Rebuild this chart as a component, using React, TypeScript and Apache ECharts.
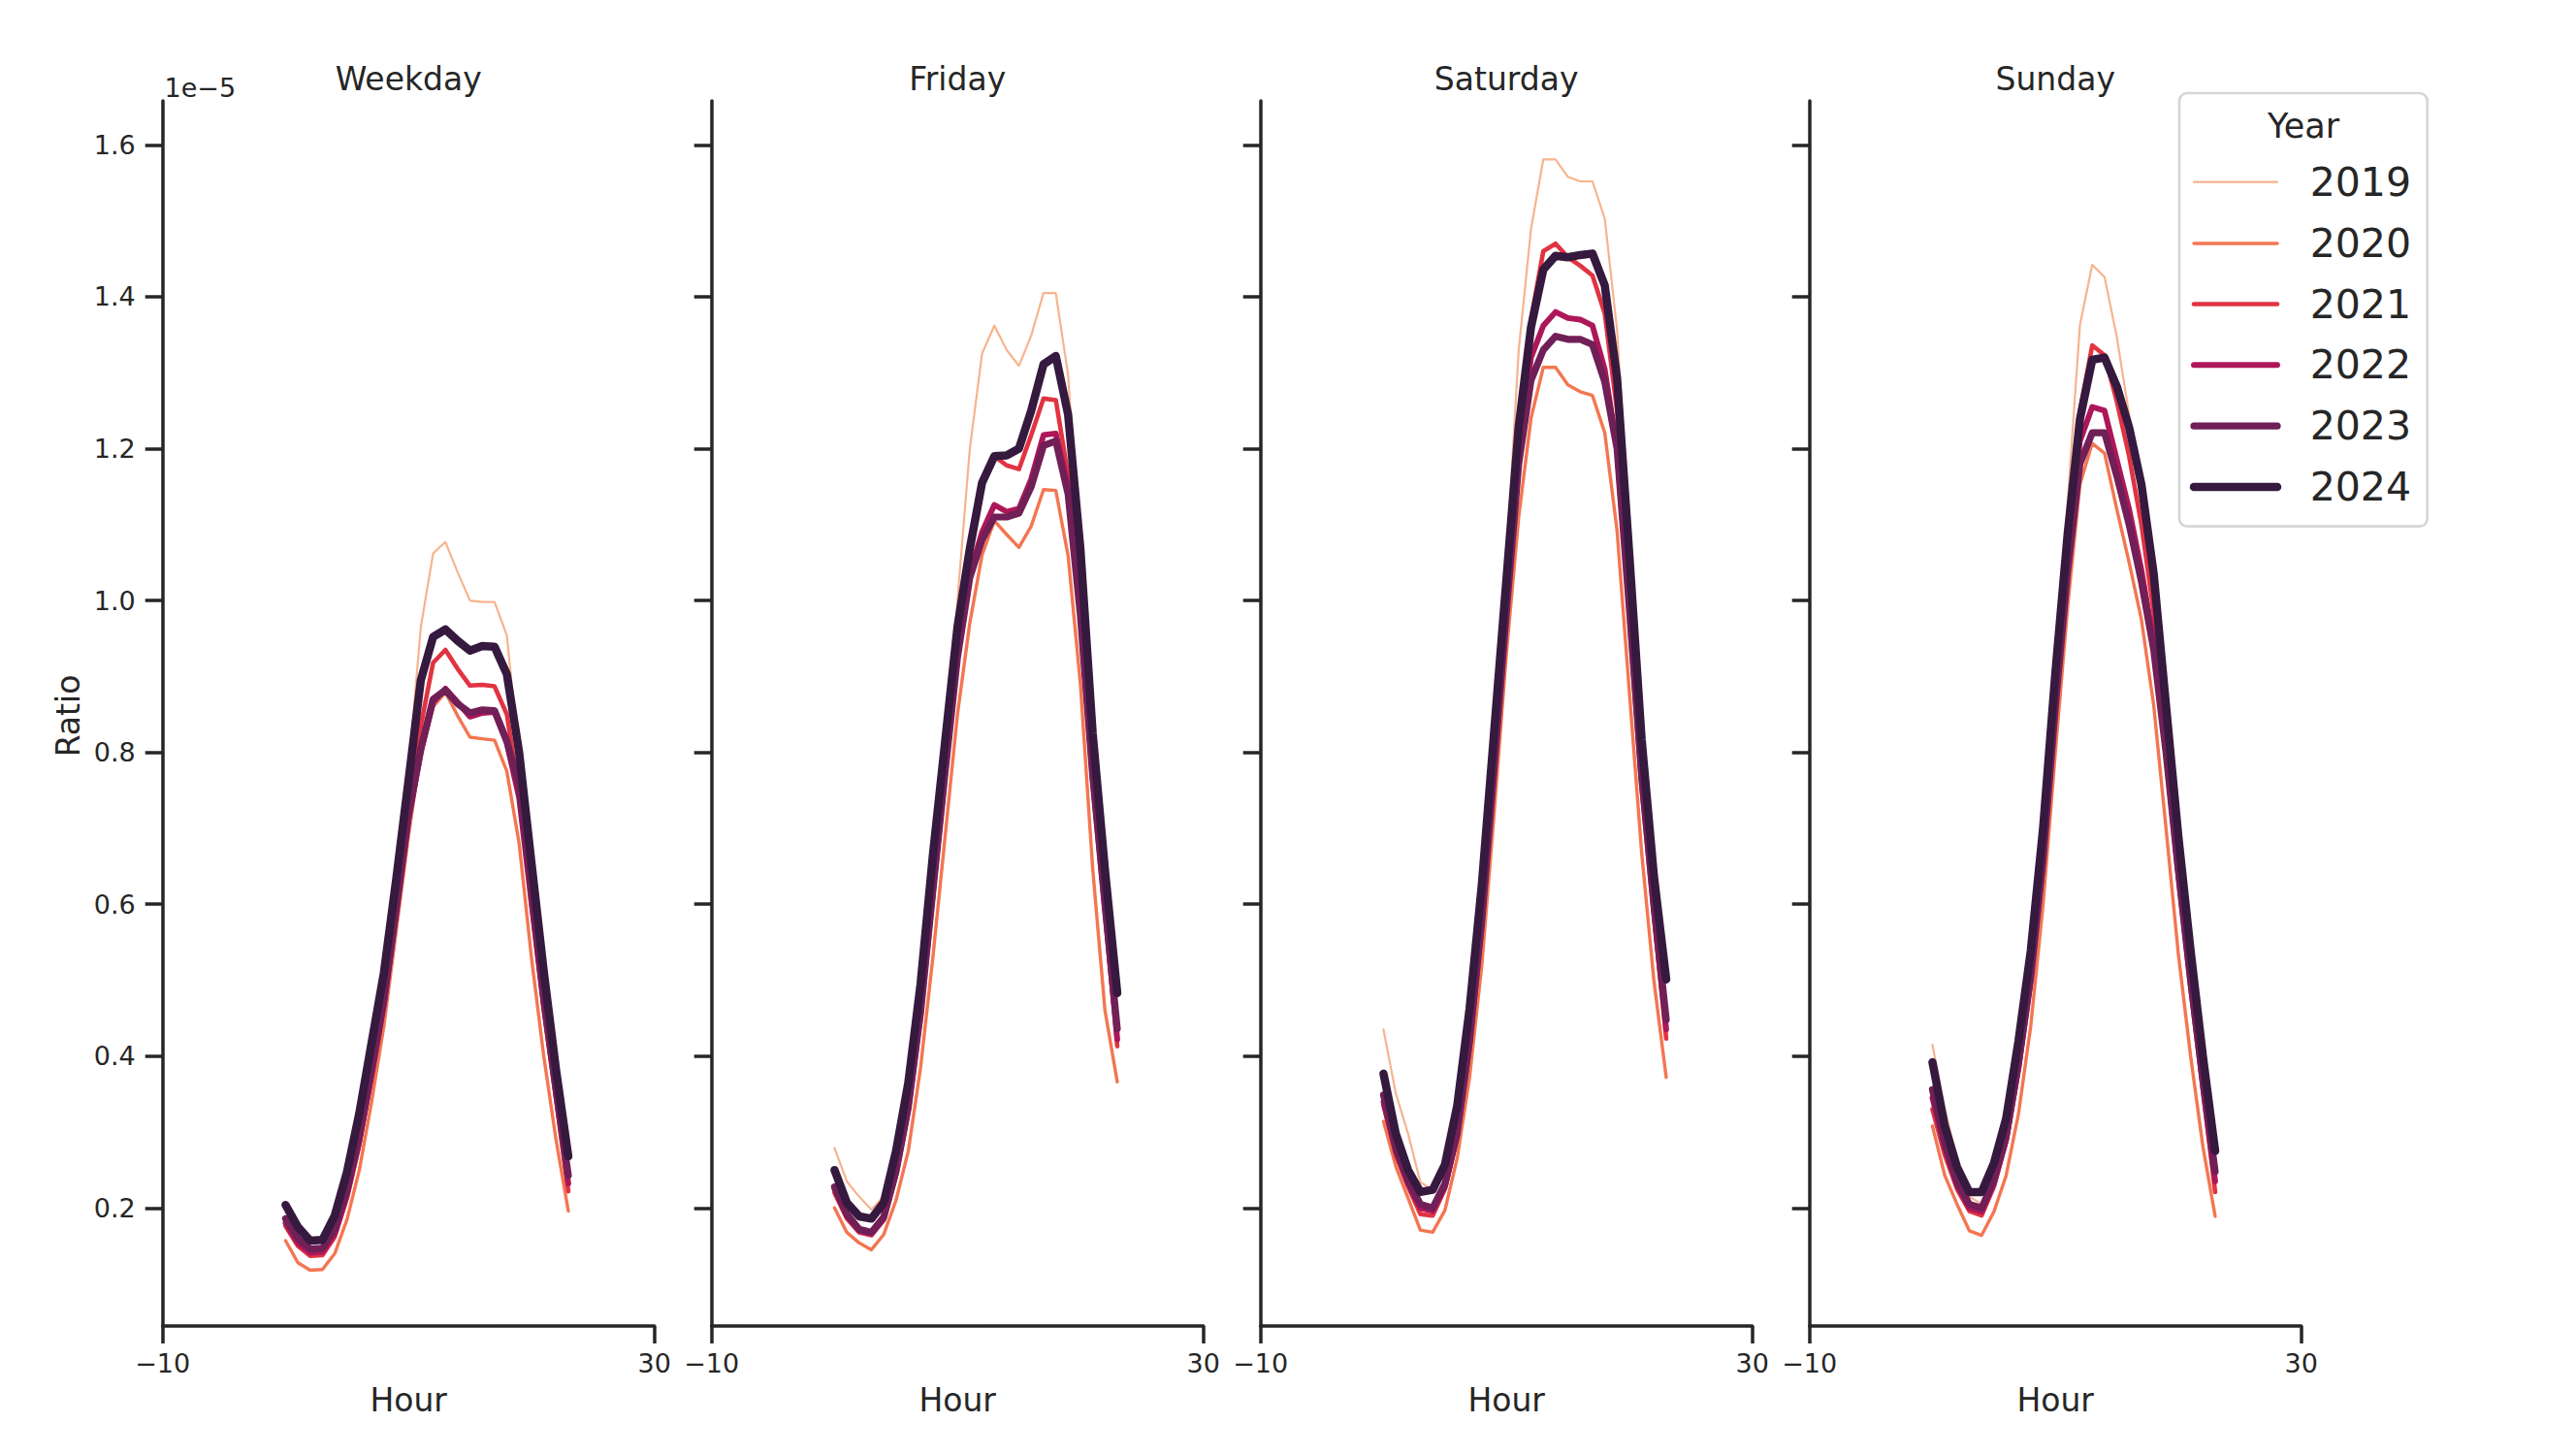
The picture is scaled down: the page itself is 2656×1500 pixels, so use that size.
import React, { useEffect, useRef } from "react";
import * as echarts from "echarts";

const HOURS = [0, 1, 2, 3, 4, 5, 6, 7, 8, 9, 10, 11, 12, 13, 14, 15, 16, 17, 18, 19, 20, 21, 22, 23];
const PANELS = ["Weekday", "Friday", "Saturday", "Sunday"];
const YEARS = ["2019", "2020", "2021", "2022", "2023", "2024"];
const Y_TICKS = [0.2, 0.4, 0.6, 0.8, 1.0, 1.2, 1.4, 1.6];
const X_TICKS = [-10, 30];

// values in units of 1e-5
const WEEKDAY_2019 = [0.180, 0.150, 0.136, 0.137, 0.160, 0.210, 0.280, 0.370, 0.468, 0.600, 0.775, 0.965, 1.062, 1.077, 1.037, 1.000, 0.998, 0.998, 0.954, 0.790, 0.630, 0.490, 0.360, 0.250];
const WEEKDAY_2020 = [0.157, 0.128, 0.118, 0.119, 0.140, 0.185, 0.250, 0.340, 0.440, 0.565, 0.690, 0.800, 0.860, 0.879, 0.848, 0.820, 0.818, 0.816, 0.775, 0.680, 0.530, 0.400, 0.290, 0.196];
const WEEKDAY_2021 = [0.176, 0.150, 0.137, 0.138, 0.162, 0.213, 0.283, 0.372, 0.466, 0.590, 0.722, 0.835, 0.918, 0.935, 0.910, 0.888, 0.889, 0.887, 0.850, 0.745, 0.598, 0.460, 0.343, 0.222];
const WEEKDAY_2022 = [0.180, 0.154, 0.141, 0.142, 0.166, 0.218, 0.288, 0.375, 0.468, 0.588, 0.712, 0.800, 0.866, 0.884, 0.866, 0.847, 0.852, 0.853, 0.812, 0.740, 0.603, 0.468, 0.350, 0.232];
const WEEKDAY_2023 = [0.186, 0.160, 0.146, 0.147, 0.172, 0.224, 0.295, 0.383, 0.475, 0.595, 0.718, 0.805, 0.870, 0.882, 0.864, 0.852, 0.856, 0.855, 0.815, 0.755, 0.618, 0.478, 0.358, 0.243];
const WEEKDAY_2024 = [0.204, 0.175, 0.157, 0.158, 0.190, 0.248, 0.325, 0.418, 0.510, 0.633, 0.763, 0.895, 0.952, 0.962, 0.947, 0.934, 0.940, 0.939, 0.903, 0.800, 0.655, 0.512, 0.382, 0.268];

const FRIDAY_2019 = [0.279, 0.235, 0.215, 0.198, 0.215, 0.265, 0.350, 0.475, 0.640, 0.800, 1.000, 1.199, 1.325, 1.362, 1.330, 1.309, 1.349, 1.405, 1.405, 1.297, 1.050, 0.790, 0.600, 0.430];
const FRIDAY_2020 = [0.200, 0.168, 0.154, 0.145, 0.165, 0.210, 0.275, 0.385, 0.530, 0.690, 0.850, 0.970, 1.060, 1.105, 1.087, 1.070, 1.098, 1.146, 1.145, 1.059, 0.890, 0.647, 0.460, 0.366];
const FRIDAY_2021 = [0.220, 0.186, 0.168, 0.164, 0.184, 0.243, 0.328, 0.455, 0.620, 0.782, 0.945, 1.065, 1.150, 1.190, 1.178, 1.173, 1.218, 1.266, 1.264, 1.165, 0.990, 0.765, 0.590, 0.413];
const FRIDAY_2022 = [0.225, 0.190, 0.170, 0.166, 0.186, 0.246, 0.330, 0.455, 0.615, 0.772, 0.925, 1.035, 1.090, 1.126, 1.117, 1.121, 1.160, 1.218, 1.220, 1.150, 0.985, 0.765, 0.595, 0.422];
const FRIDAY_2023 = [0.228, 0.192, 0.172, 0.168, 0.188, 0.248, 0.333, 0.458, 0.618, 0.775, 0.925, 1.030, 1.080, 1.110, 1.110, 1.115, 1.150, 1.204, 1.210, 1.140, 0.980, 0.770, 0.600, 0.436];
const FRIDAY_2024 = [0.250, 0.207, 0.189, 0.186, 0.207, 0.275, 0.365, 0.495, 0.665, 0.815, 0.965, 1.068, 1.155, 1.190, 1.191, 1.200, 1.250, 1.311, 1.322, 1.245, 1.068, 0.825, 0.645, 0.483];

const SATURDAY_2019 = [0.435, 0.351, 0.298, 0.234, 0.224, 0.250, 0.320, 0.445, 0.610, 0.820, 1.050, 1.330, 1.489, 1.581, 1.581, 1.558, 1.552, 1.552, 1.503, 1.356, 1.090, 0.800, 0.610, 0.460];
const SATURDAY_2020 = [0.314, 0.255, 0.213, 0.171, 0.168, 0.197, 0.266, 0.372, 0.520, 0.720, 0.930, 1.110, 1.240, 1.307, 1.307, 1.284, 1.275, 1.270, 1.221, 1.092, 0.880, 0.668, 0.499, 0.372];
const SATURDAY_2021 = [0.335, 0.270, 0.228, 0.192, 0.190, 0.225, 0.293, 0.412, 0.575, 0.780, 1.000, 1.215, 1.370, 1.460, 1.470, 1.452, 1.441, 1.428, 1.378, 1.250, 1.010, 0.770, 0.585, 0.423];
const SATURDAY_2022 = [0.340, 0.275, 0.232, 0.200, 0.196, 0.228, 0.296, 0.415, 0.575, 0.775, 0.985, 1.190, 1.320, 1.362, 1.380, 1.372, 1.370, 1.362, 1.304, 1.200, 0.985, 0.760, 0.590, 0.435];
const SATURDAY_2023 = [0.349, 0.280, 0.236, 0.205, 0.200, 0.232, 0.300, 0.420, 0.580, 0.780, 0.985, 1.180, 1.290, 1.330, 1.348, 1.344, 1.344, 1.337, 1.288, 1.200, 0.990, 0.770, 0.600, 0.448];
const SATURDAY_2024 = [0.377, 0.298, 0.250, 0.221, 0.224, 0.257, 0.335, 0.462, 0.626, 0.827, 1.028, 1.229, 1.360, 1.436, 1.454, 1.452, 1.455, 1.457, 1.415, 1.293, 1.060, 0.817, 0.637, 0.501];

const SUNDAY_2019 = [0.415, 0.330, 0.265, 0.215, 0.205, 0.240, 0.300, 0.400, 0.520, 0.690, 0.900, 1.130, 1.363, 1.442, 1.426, 1.347, 1.245, 1.140, 1.010, 0.840, 0.670, 0.520, 0.380, 0.250];
const SUNDAY_2020 = [0.308, 0.243, 0.205, 0.170, 0.164, 0.195, 0.243, 0.324, 0.440, 0.600, 0.800, 0.992, 1.153, 1.207, 1.194, 1.120, 1.050, 0.975, 0.862, 0.700, 0.535, 0.400, 0.281, 0.189];
const SUNDAY_2021 = [0.330, 0.270, 0.225, 0.196, 0.190, 0.228, 0.287, 0.382, 0.500, 0.660, 0.870, 1.080, 1.250, 1.336, 1.323, 1.262, 1.190, 1.100, 0.985, 0.820, 0.650, 0.500, 0.355, 0.221];
const SUNDAY_2022 = [0.345, 0.280, 0.230, 0.200, 0.195, 0.232, 0.290, 0.385, 0.500, 0.655, 0.860, 1.055, 1.210, 1.255, 1.250, 1.185, 1.120, 1.040, 0.945, 0.800, 0.640, 0.495, 0.360, 0.235];
const SUNDAY_2023 = [0.356, 0.285, 0.235, 0.205, 0.200, 0.237, 0.295, 0.390, 0.505, 0.660, 0.860, 1.040, 1.180, 1.221, 1.221, 1.164, 1.100, 1.025, 0.935, 0.800, 0.645, 0.500, 0.370, 0.248];
const SUNDAY_2024 = [0.392, 0.308, 0.254, 0.221, 0.221, 0.259, 0.318, 0.420, 0.539, 0.700, 0.905, 1.088, 1.239, 1.317, 1.320, 1.282, 1.228, 1.153, 1.035, 0.862, 0.690, 0.539, 0.400, 0.275];

const PANEL_DATA = [
  [WEEKDAY_2019, WEEKDAY_2020, WEEKDAY_2021, WEEKDAY_2022, WEEKDAY_2023, WEEKDAY_2024],
  [FRIDAY_2019, FRIDAY_2020, FRIDAY_2021, FRIDAY_2022, FRIDAY_2023, FRIDAY_2024],
  [SATURDAY_2019, SATURDAY_2020, SATURDAY_2021, SATURDAY_2022, SATURDAY_2023, SATURDAY_2024],
  [SUNDAY_2019, SUNDAY_2020, SUNDAY_2021, SUNDAY_2022, SUNDAY_2023, SUNDAY_2024],
];

const COLORS = ["#f6b48f", "#f37651", "#e13342", "#ad1759", "#701f57", "#35193e"];
const WIDTHS = [2.2, 3.4, 4.6, 5.9, 7.2, 8.5];

const FONT = "DejaVu Sans";
const INK = "#262626";
const GRID_LEFT0 = 167.7;
const GRID_STEP = 566;
const GRID_W = 507;
const GRID_TOP = 104;
const GRID_H = 1263;
const Y_MIN = 0.0446;
const Y_MAX = 1.658;

function fmtTick(v: number): string {
  return v < 0 ? "\u2212" + Math.abs(v) : String(v);
}

export default function App() {
  const ref = useRef<HTMLDivElement>(null);
  useEffect(() => {
    if (!ref.current) return;
    const chart = echarts.init(ref.current, null, { renderer: "svg" });
    const grids: any[] = [];
    const xAxes: any[] = [];
    const yAxes: any[] = [];
    const series: any[] = [];
    const graphics: any[] = [];
    PANELS.forEach((name, p) => {
      const left = GRID_LEFT0 + p * GRID_STEP;
      grids.push({ left, top: GRID_TOP, width: GRID_W, height: GRID_H, containLabel: false });
      xAxes.push({
        type: "value",
        gridIndex: p,
        min: -10,
        max: 30,
        axisLine: { show: true, onZero: false, lineStyle: { color: INK, width: 3.5 } },
        axisTick: { show: true, customValues: X_TICKS, length: 18, lineStyle: { color: INK, width: 3.5 } },
        axisLabel: {
          show: true,
          customValues: X_TICKS,
          formatter: fmtTick,
          color: INK,
          fontFamily: FONT,
          fontSize: 27,
          margin: 25,
        },
        splitLine: { show: false },
      });
      yAxes.push({
        type: "value",
        gridIndex: p,
        min: Y_MIN,
        max: Y_MAX,
        axisLine: { show: true, onZero: false, lineStyle: { color: INK, width: 3.5 } },
        axisTick: { show: true, customValues: Y_TICKS, length: 18, lineStyle: { color: INK, width: 3.5 } },
        axisLabel: {
          show: p === 0,
          customValues: Y_TICKS,
          formatter: (v: number) => v.toFixed(1),
          color: INK,
          fontFamily: FONT,
          fontSize: 27,
          margin: 28,
        },
        splitLine: { show: false },
      });
      YEARS.forEach((yr, k) => {
        const vals = PANEL_DATA[p][k];
        series.push({
          type: "line",
          name: yr,
          xAxisIndex: p,
          yAxisIndex: p,
          data: HOURS.map((h, i) => [h, vals[i]]),
          showSymbol: false,
          symbol: "none",
          lineStyle: { color: COLORS[k], width: WIDTHS[k], cap: "round", join: "round" },
          z: 2 + k,
        });
      });
      const cx = left + GRID_W / 2;
      graphics.push({
        type: "text",
        x: cx,
        y: 81.5,
        style: { text: name, fill: INK, font: `33px "${FONT}"`, textAlign: "center", textVerticalAlign: "middle" },
      });
      graphics.push({
        type: "text",
        x: cx,
        y: 1443.6,
        style: { text: "Hour", fill: INK, font: `33px "${FONT}"`, textAlign: "center", textVerticalAlign: "middle" },
      });
    });
    graphics.push({
      type: "text",
      x: 70.3,
      y: 738,
      rotation: Math.PI / 2,
      style: { text: "Ratio", fill: INK, font: `33px "${FONT}"`, textAlign: "center", textVerticalAlign: "middle" },
    });
    graphics.push({
      type: "text",
      x: 169.5,
      y: 90.7,
      style: { text: "1e\u22125", fill: INK, font: `27px "${FONT}"`, textAlign: "left", textVerticalAlign: "middle" },
    });
    // legend
    const legendChildren: any[] = [
      {
        type: "rect",
        shape: { x: 2247, y: 96, width: 255.7, height: 446.7, r: 8 },
        style: { fill: "rgba(255,255,255,0.8)", stroke: "#d6d6d6", lineWidth: 2.7 },
        z: 10,
      },
      {
        type: "text",
        x: 2375,
        y: 129.6,
        style: { text: "Year", fill: INK, font: `35px "${FONT}"`, textAlign: "center", textVerticalAlign: "middle" },
        z: 11,
      },
    ];
    const rowY = [187.7, 251, 313.5, 376.3, 439.2, 502];
    YEARS.forEach((yr, k) => {
      legendChildren.push({
        type: "line",
        shape: { x1: 2262, y1: rowY[k], x2: 2348, y2: rowY[k] },
        style: { stroke: COLORS[k], lineWidth: WIDTHS[k], lineCap: "round" },
        z: 11,
      });
      legendChildren.push({
        type: "text",
        x: 2381.7,
        y: rowY[k],
        style: { text: yr, fill: INK, font: `41px "${FONT}"`, textAlign: "left", textVerticalAlign: "middle" },
        z: 11,
      });
    });
    graphics.push({ type: "group", children: legendChildren });

    chart.setOption({
      animation: false,
      backgroundColor: "#ffffff",
      grid: grids,
      xAxis: xAxes,
      yAxis: yAxes,
      series,
      graphic: graphics,
    });
    return () => chart.dispose();
  }, []);
  return (
    <div
      ref={ref}
      style={{ position: "fixed", left: 0, top: 0, width: 2656, height: 1500, background: "#fff" }}
    />
  );
}
